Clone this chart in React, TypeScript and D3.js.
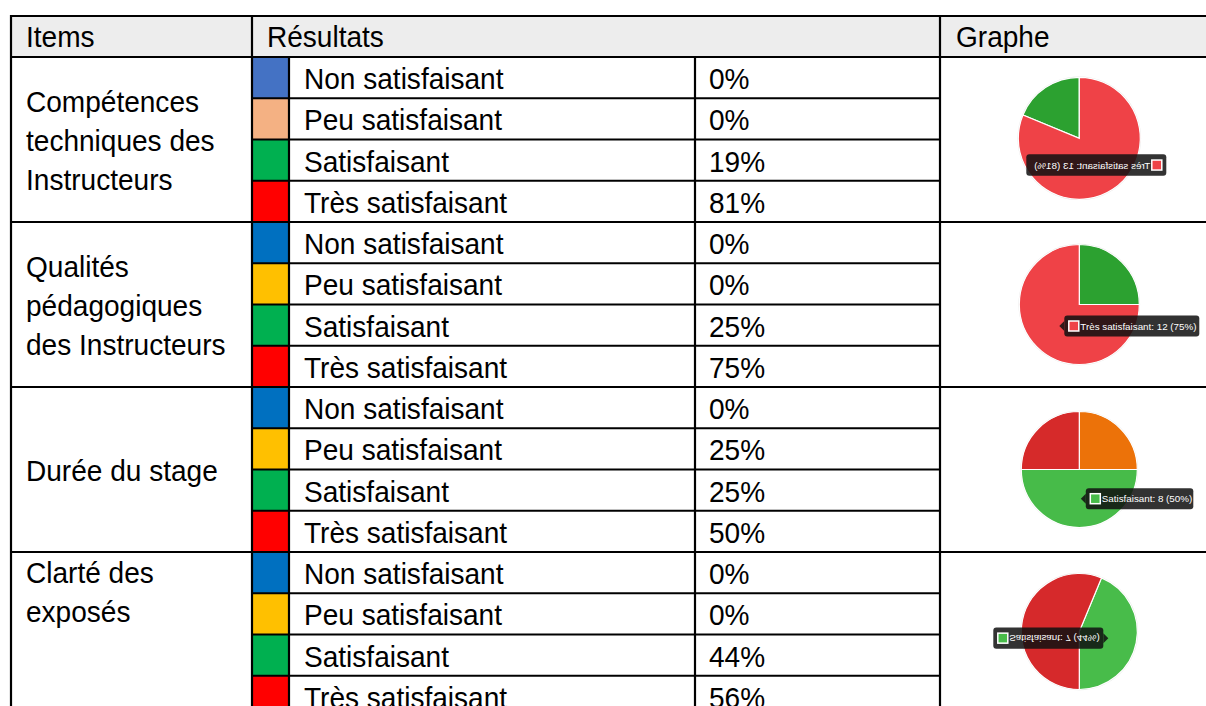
import React from "react";
import * as d3 from "d3";

// ---------- data ----------
const headers = ["Items", "Résultats", "Graphe"];
const itemLabels: string[][] = [
  ["Compétences", "techniques des", "Instructeurs"],
  ["Qualités", "pédagogiques", "des Instructeurs"],
  ["Durée du stage"],
  ["Clarté des", "exposés"],
];
const categories = ["Non satisfaisant", "Peu satisfaisant", "Satisfaisant", "Très satisfaisant"];
const percents: number[][] = [
  [0, 0, 19, 81],
  [0, 0, 25, 75],
  [0, 25, 25, 50],
  [0, 0, 44, 56],
];
const swatchColors: string[][] = [
  ["#4472C4", "#F4B183", "#00B050", "#FF0000"],
  ["#0070C0", "#FFC000", "#00B050", "#FF0000"],
  ["#0070C0", "#FFC000", "#00B050", "#FF0000"],
  ["#0070C0", "#FFC000", "#00B050", "#FF0000"],
];
// pie slices (order as drawn clockwise from 12 o'clock, before flip)
const pieLabels: string[][] = [
  ["Satisfaisant", "Très satisfaisant"],
  ["Satisfaisant", "Très satisfaisant"],
  ["Peu satisfaisant", "Satisfaisant", "Très satisfaisant"],
  ["Satisfaisant", "Très satisfaisant"],
];
const pieCounts: number[][] = [
  [3, 13],
  [4, 12],
  [4, 8, 4],
  [7, 9],
];
const pieColors: string[][] = [
  ["#2CA130", "#EF4247"],
  ["#2CA130", "#EF4247"],
  ["#EC7209", "#47BB49", "#D62A2A"],
  ["#48BC4A", "#D6292B"],
];
const tooltipSlice = [1, 1, 1, 0];

// ---------- layout ----------
const W = 1206, H = 706;
const colX = [11, 252, 289, 695, 940, 1206];
const top = 16, headH = 41, rowH = 41.25;
const FS = 30, SX = 0.935;
const pieR = [61, 60, 58, 58];
const pieFlip = ["x", "none", "none", "y"];
const valign = ["middle", "middle", "middle", "top"];
const tips = [
  { x: -87, y: 16, w: 140, h: 21.5, arrow: "none" },
  { x: -15, y: 11, w: 135, h: 21, arrow: "left" },
  { x: 6.5, y: 18.7, w: 107.5, h: 21, arrow: "left" },
  { x: -86, y: -17.3, w: 110, h: 21.3, arrow: "right" },
];

const Txt = ({ x, y, children, size = FS }: any) => (
  <text
    transform={`translate(${x},${y}) scale(${SX},1)`}
    fontFamily="'Liberation Sans', Arial, sans-serif"
    fontSize={size}
    fill="#000"
  >
    {children}
  </text>
);

function Pie({ gi, cx, cy }: { gi: number; cx: number; cy: number }) {
  const r = pieR[gi];
  const pie = d3.pie<number>().sort(null).value((d) => d);
  const arcs = pie(pieCounts[gi]);
  const arc = d3.arc<d3.PieArcDatum<number>>().innerRadius(0).outerRadius(r);
  const flip = pieFlip[gi] === "x" ? "scale(-1,1)" : pieFlip[gi] === "y" ? "scale(1,-1)" : "";
  const t = tips[gi];
  const si = tooltipSlice[gi];
  const total = d3.sum(pieCounts[gi]);
  const label = `${pieLabels[gi][si]}: ${pieCounts[gi][si]} (${Math.round((pieCounts[gi][si] / total) * 100)}%)`;
  const ay = t.y + t.h / 2;
  return (
    <g transform={`translate(${cx},${cy}) ${flip}`}>
      <circle r={r + 0.8} fill="#e4e4e4" />
      {arcs.map((a, i) => (
        <path key={i} d={arc(a) || ""} fill={pieColors[gi][i]} stroke="#fff" strokeWidth={1.2} />
      ))}
      <g opacity={0.86}>
        <rect x={t.x} y={t.y} width={t.w} height={t.h} rx={3} fill="#111" />
        {t.arrow === "left" && (
          <path d={`M${t.x},${ay - 5}L${t.x - 5},${ay}L${t.x},${ay + 5}Z`} fill="#111" />
        )}
        {t.arrow === "right" && (
          <path d={`M${t.x + t.w},${ay - 5}L${t.x + t.w + 5},${ay}L${t.x + t.w},${ay + 5}Z`} fill="#111" />
        )}
      </g>
      <rect x={t.x + 4.5} y={ay - 5} width={10} height={10} fill={pieColors[gi][si]} stroke="#fff" strokeWidth={1.5} />
      <text
        x={t.x + 16}
        y={ay + 3.5}
        fontFamily="'Liberation Sans', Arial, sans-serif"
        fontSize={9.8}
        fill="#fff"
      >
        {label}
      </text>
    </g>
  );
}

export default function App() {
  const bodyTop = top + headH;
  const groupH = rowH * categories.length;
  const lines: React.ReactNode[] = [];
  const content: React.ReactNode[] = [];

  itemLabels.forEach((lbls, gi) => {
    const gy = bodyTop + gi * groupH;
    const lineH = 39;
    const startC =
      valign[gi] === "middle" ? gy + groupH / 2 - ((lbls.length - 1) * lineH) / 2 : gy + 20;
    lbls.forEach((l, li) => {
      content.push(
        <Txt key={`it${gi}-${li}`} x={26} y={startC + li * lineH + 11}>
          {l}
        </Txt>
      );
    });
    categories.forEach((c, ri) => {
      const ry = gy + ri * rowH;
      content.push(
        <rect key={`sw${gi}-${ri}`} x={colX[1]} y={ry} width={colX[2] - colX[1]} height={rowH} fill={swatchColors[gi][ri]} />
      );
      content.push(
        <Txt key={`c${gi}-${ri}`} x={304} y={ry + 32}>
          {c}
        </Txt>
      );
      content.push(
        <Txt key={`v${gi}-${ri}`} x={709} y={ry + 32}>
          {`${percents[gi][ri]}%`}
        </Txt>
      );
      if (ri > 0)
        lines.push(<line key={`rl${gi}-${ri}`} x1={colX[1]} x2={colX[4]} y1={ry} y2={ry} />);
    });
    lines.push(<line key={`gl${gi}`} x1={colX[0] - 1} x2={W} y1={gy} y2={gy} />);
    content.push(<Pie key={`p${gi}`} gi={gi} cx={1079.3} cy={gy + groupH / 2 - (gi === 3 ? 3 : 0) + (gi === 0 ? -1.2 : 0)} />);
  });

  return (
    <svg width={W} height={H} style={{ position: "absolute", left: 0, top: 0, background: "#fff" }}>
      <rect x={colX[0]} y={top} width={W - colX[0]} height={headH} fill="#ededed" />
      <Txt x={26} y={top + 31}>{headers[0]}</Txt>
      <Txt x={267} y={top + 31}>{headers[1]}</Txt>
      <Txt x={956} y={top + 31}>{headers[2]}</Txt>
      {content}
      <g stroke="#000" strokeWidth={2.2}>
        <line x1={colX[0] - 1} x2={W} y1={top} y2={top} />
        {lines}
        <line x1={colX[0]} x2={colX[0]} y1={top - 1} y2={H} />
        <line x1={colX[1]} x2={colX[1]} y1={top} y2={H} />
        <line x1={colX[2]} x2={colX[2]} y1={bodyTop} y2={H} />
        <line x1={colX[3]} x2={colX[3]} y1={bodyTop} y2={H} />
        <line x1={colX[4]} x2={colX[4]} y1={top} y2={H} />
      </g>
    </svg>
  );
}
